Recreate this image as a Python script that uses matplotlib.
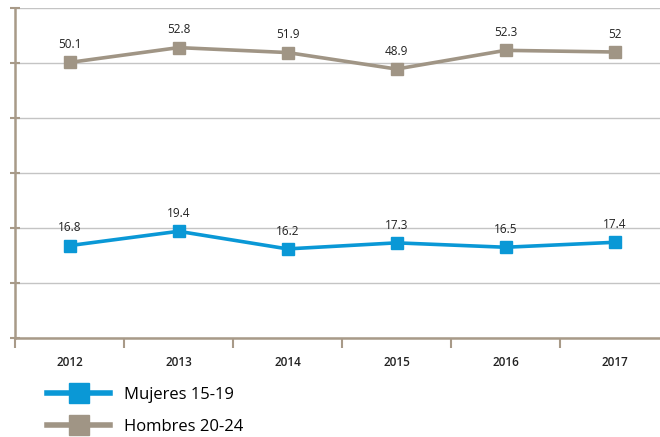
import matplotlib.pyplot as plt
import numpy as np

years = ['2012', '2013', '2014', '2015', '2016', '2017']
mujeres = [16.8, 19.4, 16.2, 17.3, 16.5, 17.4]
hombres = [50.1, 52.8, 51.9, 48.9, 52.3, 52.0]
mujeres_lbl = ['16.8', '19.4', '16.2', '17.3', '16.5', '17.4']
hombres_lbl = ['50.1', '52.8', '51.9', '48.9', '52.3', '52']

blue = '#0a98d6'
taupe = '#a09585'
spine_c = '#a89a88'

plt.rcParams['font.family'] = ['Open Sans', 'DejaVu Sans']

fig = plt.figure(figsize=(6.6, 4.37), dpi=100)
# right edge of the plot runs past the picture, like the original crop
ax = fig.add_axes([15 / 660, (437 - 338) / 437, 654 / 660, 330 / 437])

x = np.arange(len(years))
ax.plot(x, mujeres, color=blue, lw=2.6, marker='s', ms=9, label='Mujeres 15-19')
ax.plot(x, hombres, color=taupe, lw=2.6, marker='s', ms=9, label='Hombres 20-24')

for xi, v, t in zip(x, mujeres, mujeres_lbl):
    ax.annotate(t, (xi, v), xytext=(0, 8), textcoords='offset points',
                ha='center', va='bottom', fontsize=8.5, color='#222222')
for xi, v, t in zip(x, hombres, hombres_lbl):
    ax.annotate(t, (xi, v), xytext=(0, 8), textcoords='offset points',
                ha='center', va='bottom', fontsize=8.5, color='#222222')

ax.set_xlim(-0.5, len(years) - 0.5)
ax.set_ylim(0, 60)
ax.set_yticks(np.arange(0, 61, 10))
ax.set_yticklabels([])
ax.yaxis.grid(True, color='#c4c4c4', lw=1)
ax.set_axisbelow(True)

ax.set_xticks(x)
ax.set_xticklabels(years, fontsize=8.5, fontweight='semibold', color='#222222')
ax.set_xticks(np.arange(-0.5, len(years), 1), minor=True)
ax.tick_params(axis='x', which='major', length=0, pad=13)
ax.tick_params(axis='x', which='minor', length=7, width=1.5, color=spine_c)
ax.tick_params(axis='y', length=7, width=1.5, color=spine_c, direction='inout')

for s in ['top', 'right']:
    ax.spines[s].set_visible(False)
for s in ['left', 'bottom']:
    ax.spines[s].set_color(spine_c)
    ax.spines[s].set_linewidth(1.8)

leg = fig.legend(loc='upper left', bbox_to_anchor=(32 / 660, 1 - 372 / 437),
                 frameon=False, fontsize=12, handlelength=3.8, markerscale=1.55,
                 labelspacing=0.95, handletextpad=0.8)
for h in leg.get_lines():
    h.set_linewidth(4)

fig.savefig('out.png', dpi=100)
